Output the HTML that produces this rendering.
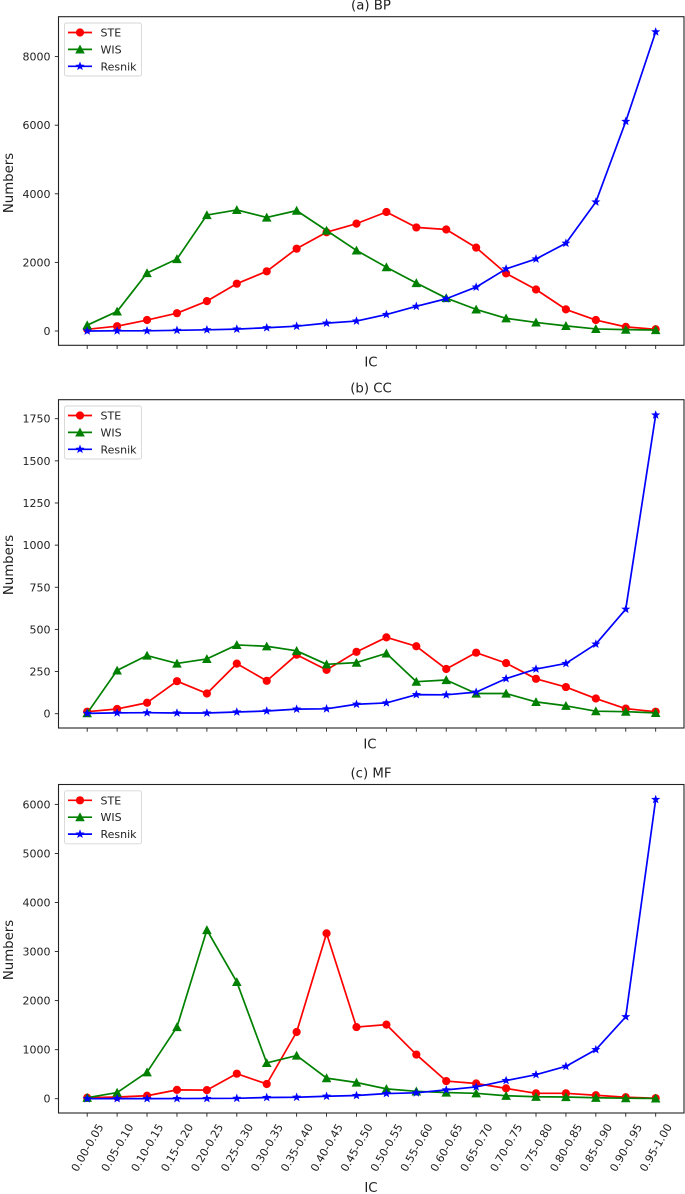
<!DOCTYPE html>
<html>
<head>
<meta charset="utf-8">
<title>IC distribution charts</title>
<style>
html,body{margin:0;padding:0;background:#fff;}
svg{display:block;font-family:"DejaVu Sans","Liberation Sans",sans-serif;filter:blur(0.35px);}
</style>
</head>
<body>
<svg id="chart" xmlns="http://www.w3.org/2000/svg" width="685" height="1194" viewBox="0 0 685 1194"></svg>
<script>
const categories = ["0.00-0.05","0.05-0.10","0.10-0.15","0.15-0.20","0.20-0.25","0.25-0.30","0.30-0.35","0.35-0.40","0.40-0.45","0.45-0.50","0.50-0.55","0.55-0.60","0.60-0.65","0.65-0.70","0.70-0.75","0.75-0.80","0.80-0.85","0.85-0.90","0.90-0.95","0.95-1.00"];
const seriesNames = ["STE","WIS","Resnik"];

const bpSte = [50,140,320,520,870,1380,1740,2400,2880,3130,3470,3020,2960,2430,1680,1210,630,320,120,50];
const bpWis = [170,570,1690,2100,3380,3530,3310,3510,2930,2350,1860,1400,960,630,370,250,150,60,40,30];
const bpResnik = [0,5,5,20,35,55,95,140,230,290,480,720,940,1280,1810,2100,2560,3760,6110,8720];
const bpTicks = [0,2000,4000,6000,8000];

const ccSte = [12,28,65,193,120,297,195,350,260,367,453,400,265,362,300,207,158,90,30,12];
const ccWis = [3,257,345,298,325,408,400,373,293,303,358,190,200,120,120,70,47,15,12,5];
const ccResnik = [2,5,6,4,4,10,16,27,29,56,64,113,112,128,208,265,298,413,620,1772];
const ccTicks = [0,250,500,750,1000,1250,1500,1750];

const mfSte = [20,35,60,180,175,510,300,1360,3370,1460,1510,900,360,310,210,110,110,70,30,10];
const mfWis = [20,125,540,1460,3440,2380,730,880,420,330,200,150,125,110,60,40,35,20,10,5];
const mfResnik = [0,2,2,3,5,8,25,30,50,65,105,120,180,240,370,490,660,1000,1670,6100];
const mfTicks = [0,1000,2000,3000,4000,5000,6000];

const NS = "http://www.w3.org/2000/svg";
const root = document.getElementById("chart");
const INK = "#1f1f1f";
const LEFT = 58.5, RIGHT = 684, X0 = 87.2, DX = 29.92;
const COLORS = ["#ff0000","#008000","#0000ff"];

function make(parent, tag, attrs, text) {
  const el = document.createElementNS(NS, tag);
  for (const k in attrs) el.setAttribute(k, attrs[k]);
  if (text !== undefined) el.textContent = text;
  parent.appendChild(el);
  return el;
}
function xScale(i) { return X0 + i * DX; }

function drawMarker(group, kind, x, y, color) {
  let m;
  if (kind === 0) {
    m = make(group, "circle", {cx:x, cy:y, r:4.1, fill:color});
  } else if (kind === 1) {
    m = make(group, "polygon", {points:(x-4.8)+","+(y+4.1)+" "+(x+4.8)+","+(y+4.1)+" "+x+","+(y-4.8), fill:color});
  } else {
    const pts = [];
    for (let k = 0; k < 10; k++) {
      const r = k % 2 ? 2.0 : 4.8;
      const a = -Math.PI / 2 + k * Math.PI / 5;
      pts.push((x + r * Math.cos(a)).toFixed(2) + "," + (y + r * Math.sin(a)).toFixed(2));
    }
    m = make(group, "polygon", {points:pts.join(" "), fill:color});
  }
  
  
}

function drawPanel(p) {
  const yScale = v => p.zeroY - v * p.pxPerUnit;
  const panel = make(root, "g", {});
  
  

  const title = make(panel, "text", {x:371, y:p.titleY, "text-anchor":"middle", "font-size":13.3, fill:INK}, p.title);
  
  

  const frame = make(panel, "rect", {x:LEFT, y:p.top, width:RIGHT-LEFT, height:p.bottom-p.top, fill:"none", stroke:"#222", "stroke-width":1.1});
  
  

  p.ticks.forEach(t => {
    const y = yScale(t);
    const tick = make(panel, "line", {x1:LEFT-3.7, x2:LEFT, y1:y, y2:y, stroke:"#222", "stroke-width":0.9});
    
    
    const label = make(panel, "text", {x:LEFT-8, y:y+4, "text-anchor":"end", "font-size":11, fill:INK}, String(t));
    
    
  });

  categories.forEach((c, i) => {
    const x = xScale(i);
    const tick = make(panel, "line", {x1:x, x2:x, y1:p.bottom, y2:p.bottom+3.7, stroke:"#222", "stroke-width":0.9});
    
    
    if (p.showLabels) {
      const cy = p.bottom + 34.5;
      const label = make(panel, "text", {x:x, y:cy+4, "text-anchor":"middle", "font-size":11, fill:INK, transform:"rotate(-60 "+x+" "+cy+")"}, c);
      
      
    }
  });

  const xt = make(panel, "text", {x:p.icX, y:p.icY, "text-anchor":"middle", "font-size":13.3, fill:INK}, "IC");
  
  

  const yCenter = p.numbersY;
  const yt = make(panel, "text", {x:13, y:yCenter, "text-anchor":"middle", "font-size":13.3, fill:INK, transform:"rotate(-90 13 "+yCenter+")"}, "Numbers");
  
  

  p.series.forEach((vals, s) => {
    const g = make(panel, "g", {});
    
    
    const pts = vals.map((v, i) => xScale(i).toFixed(2) + "," + yScale(v).toFixed(2)).join(" ");
    const line = make(g, "polyline", {points:pts, fill:"none", stroke:COLORS[s], "stroke-width":1.7, "stroke-linejoin":"round"});
    
    
    vals.forEach((v, i) => drawMarker(g, s, xScale(i), yScale(v), COLORS[s]));
  });

  const lg = make(panel, "g", {});
  
  
  const ly = p.top + 6.3;
  const box = make(lg, "rect", {x:64.5, y:ly, width:77, height:53, rx:2, ry:2, fill:"#fff", "fill-opacity":0.8, stroke:"#d6d6d6", "stroke-width":0.9});
  
  
  seriesNames.forEach((n, s) => {
    const ry = ly + 9.5 + s * 16.9;
    const entry = make(lg, "g", {});
    
    
    const sample = make(entry, "line", {x1:68, x2:92, y1:ry, y2:ry, stroke:COLORS[s], "stroke-width":1.7});
    
    
    drawMarker(entry, s, 80, ry, COLORS[s]);
    const label = make(entry, "text", {x:100.5, y:ry+4, "font-size":11, fill:INK}, n);
    
    
  });
}

drawPanel({id:"bp", title:"(a) BP", titleY:9.5, top:16.7, bottom:345.3, zeroY:331, pxPerUnit:0.0343, ticks:bpTicks, series:[bpSte,bpWis,bpResnik], icX:371, icY:366.5, numbersY:183, showLabels:false});
drawPanel({id:"cc", title:"(b) CC", titleY:392.5, top:399.7, bottom:728, zeroY:713.7, pxPerUnit:0.16857, ticks:ccTicks, series:[ccSte,ccWis,ccResnik], icX:370, icY:748.5, numbersY:565, showLabels:false});
drawPanel({id:"mf", title:"(c) MF", titleY:777.5, top:784.5, bottom:1113, zeroY:1098.7, pxPerUnit:0.04905, ticks:mfTicks, series:[mfSte,mfWis,mfResnik], icX:371, icY:1192, numbersY:950, showLabels:true});
</script>
</body>
</html>
